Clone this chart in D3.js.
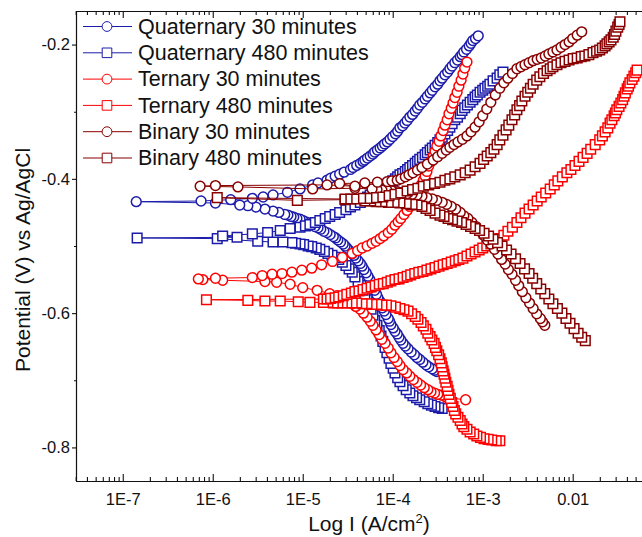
<!DOCTYPE html>
<html>
<head>
<meta charset="utf-8">
<script src="https://cdn.jsdelivr.net/npm/d3@7"></script>
<style>
  body { margin: 0; background: #fff; }
  text { font-family: "Liberation Sans", Arial, sans-serif; }
</style>
</head>
<body>
<div id="my_dataviz"></div>
<script>
// polarization scans, [potential (V vs Ag/AgCl), log10 current density (A/cm2)], in sweep order
var quat30 = [[-0.687,-3.51],[-0.685,-3.535],[-0.683,-3.56],[-0.680,-3.60],[-0.677,-3.63],[-0.673,-3.665],[-0.669,-3.70],[-0.666,-3.73],[-0.662,-3.76],[-0.658,-3.795],[-0.653,-3.83],[-0.649,-3.86],[-0.645,-3.885],[-0.640,-3.91],[-0.636,-3.93],[-0.631,-3.95],[-0.627,-3.975],[-0.622,-3.995],[-0.617,-4.02],[-0.612,-4.035],[-0.608,-4.05],[-0.602,-4.075],[-0.597,-4.095],[-0.592,-4.115],[-0.587,-4.13],[-0.582,-4.145],[-0.577,-4.165],[-0.572,-4.18],[-0.566,-4.20],[-0.561,-4.22],[-0.556,-4.24],[-0.550,-4.255],[-0.545,-4.275],[-0.540,-4.295],[-0.535,-4.32],[-0.530,-4.34],[-0.526,-4.36],[-0.522,-4.385],[-0.518,-4.41],[-0.514,-4.43],[-0.511,-4.45],[-0.507,-4.48],[-0.503,-4.51],[-0.500,-4.53],[-0.497,-4.55],[-0.494,-4.58],[-0.491,-4.61],[-0.488,-4.635],[-0.486,-4.66],[-0.483,-4.695],[-0.480,-4.73],[-0.478,-4.765],[-0.475,-4.80],[-0.473,-4.83],[-0.471,-4.865],[-0.468,-4.90],[-0.466,-4.93],[-0.464,-4.965],[-0.462,-5.00],[-0.460,-5.03],[-0.459,-5.065],[-0.457,-5.10],[-0.456,-5.13],[-0.454,-5.165],[-0.453,-5.20],[-0.450,-5.265],[-0.448,-5.33],[-0.445,-5.42],[-0.442,-5.52],[-0.440,-5.61],[-0.439,-5.70],[-0.436,-5.97],[-0.434,-6.85],[-0.433,-6.13],[-0.431,-5.80],[-0.429,-5.56],[-0.427,-5.44],[-0.424,-5.33],[-0.420,-5.17],[-0.415,-5.03],[-0.409,-4.89],[-0.406,-4.83],[-0.402,-4.73],[-0.399,-4.69],[-0.396,-4.64],[-0.393,-4.59],[-0.390,-4.54],[-0.386,-4.47],[-0.383,-4.44],[-0.380,-4.40],[-0.377,-4.36],[-0.374,-4.33],[-0.372,-4.31],[-0.369,-4.28],[-0.366,-4.25],[-0.363,-4.22],[-0.360,-4.20],[-0.357,-4.17],[-0.354,-4.14],[-0.351,-4.115],[-0.348,-4.09],[-0.345,-4.06],[-0.341,-4.03],[-0.337,-4.00],[-0.333,-3.97],[-0.329,-3.945],[-0.324,-3.92],[-0.321,-3.89],[-0.317,-3.865],[-0.313,-3.84],[-0.308,-3.81],[-0.304,-3.78],[-0.299,-3.75],[-0.295,-3.725],[-0.290,-3.70],[-0.286,-3.67],[-0.281,-3.64],[-0.277,-3.615],[-0.272,-3.585],[-0.268,-3.56],[-0.263,-3.53],[-0.259,-3.50],[-0.254,-3.475],[-0.250,-3.45],[-0.245,-3.42],[-0.241,-3.39],[-0.236,-3.365],[-0.232,-3.34],[-0.227,-3.31],[-0.223,-3.28],[-0.218,-3.25],[-0.215,-3.23],[-0.211,-3.21],[-0.207,-3.18],[-0.202,-3.15],[-0.198,-3.13],[-0.194,-3.11],[-0.191,-3.08],[-0.187,-3.05]];

var quat480 = [[-0.742,-3.45],[-0.741,-3.49],[-0.739,-3.53],[-0.737,-3.57],[-0.735,-3.61],[-0.732,-3.65],[-0.729,-3.70],[-0.726,-3.735],[-0.723,-3.775],[-0.719,-3.81],[-0.714,-3.85],[-0.708,-3.885],[-0.702,-3.92],[-0.696,-3.945],[-0.689,-3.975],[-0.682,-3.995],[-0.675,-4.02],[-0.667,-4.04],[-0.659,-4.065],[-0.651,-4.085],[-0.642,-4.11],[-0.634,-4.13],[-0.626,-4.15],[-0.618,-4.175],[-0.611,-4.20],[-0.603,-4.22],[-0.594,-4.24],[-0.587,-4.265],[-0.580,-4.285],[-0.573,-4.31],[-0.566,-4.33],[-0.559,-4.355],[-0.553,-4.385],[-0.546,-4.42],[-0.539,-4.45],[-0.534,-4.485],[-0.529,-4.52],[-0.524,-4.56],[-0.520,-4.60],[-0.517,-4.635],[-0.514,-4.675],[-0.511,-4.72],[-0.508,-4.76],[-0.505,-4.81],[-0.503,-4.85],[-0.501,-4.90],[-0.500,-4.94],[-0.498,-4.99],[-0.497,-5.03],[-0.496,-5.08],[-0.495,-5.12],[-0.494,-5.22],[-0.494,-5.33],[-0.493,-5.50],[-0.489,-5.95],[-0.488,-6.84],[-0.487,-5.73],[-0.485,-5.89],[-0.482,-5.56],[-0.480,-5.39],[-0.477,-5.25],[-0.474,-5.14],[-0.472,-5.03],[-0.470,-4.97],[-0.468,-4.92],[-0.465,-4.86],[-0.462,-4.81],[-0.459,-4.75],[-0.456,-4.70],[-0.453,-4.64],[-0.450,-4.59],[-0.446,-4.52],[-0.442,-4.47],[-0.439,-4.42],[-0.435,-4.36],[-0.430,-4.31],[-0.427,-4.28],[-0.424,-4.25],[-0.420,-4.20],[-0.418,-4.17],[-0.415,-4.14],[-0.413,-4.11],[-0.410,-4.09],[-0.408,-4.06],[-0.405,-4.03],[-0.403,-4.00],[-0.400,-3.97],[-0.397,-3.945],[-0.394,-3.92],[-0.392,-3.89],[-0.389,-3.86],[-0.386,-3.835],[-0.383,-3.81],[-0.380,-3.78],[-0.377,-3.75],[-0.374,-3.725],[-0.371,-3.70],[-0.368,-3.67],[-0.364,-3.64],[-0.361,-3.615],[-0.357,-3.585],[-0.354,-3.56],[-0.350,-3.53],[-0.346,-3.50],[-0.342,-3.475],[-0.338,-3.45],[-0.333,-3.42],[-0.328,-3.39],[-0.323,-3.365],[-0.318,-3.34],[-0.312,-3.31],[-0.308,-3.28],[-0.303,-3.25],[-0.298,-3.23],[-0.294,-3.20],[-0.290,-3.17],[-0.286,-3.14],[-0.282,-3.11],[-0.278,-3.085],[-0.275,-3.06],[-0.271,-3.03],[-0.268,-3.00],[-0.265,-2.975],[-0.262,-2.945],[-0.259,-2.92],[-0.254,-2.885],[-0.250,-2.84],[-0.245,-2.81],[-0.241,-2.775]];

var tern30 = [[-0.729,-3.19],[-0.726,-3.39],[-0.725,-3.40],[-0.724,-3.42],[-0.722,-3.46],[-0.721,-3.50],[-0.719,-3.535],[-0.717,-3.575],[-0.714,-3.61],[-0.711,-3.65],[-0.707,-3.69],[-0.703,-3.73],[-0.699,-3.77],[-0.694,-3.81],[-0.689,-3.845],[-0.684,-3.885],[-0.678,-3.92],[-0.672,-3.95],[-0.666,-3.985],[-0.659,-4.02],[-0.652,-4.05],[-0.645,-4.085],[-0.639,-4.12],[-0.632,-4.15],[-0.625,-4.185],[-0.618,-4.22],[-0.612,-4.25],[-0.606,-4.285],[-0.600,-4.325],[-0.594,-4.365],[-0.590,-4.41],[-0.586,-4.45],[-0.582,-4.50],[-0.578,-4.55],[-0.574,-4.62],[-0.571,-4.70],[-0.566,-4.84],[-0.562,-5.00],[-0.557,-5.14],[-0.554,-5.29],[-0.553,-5.42],[-0.551,-5.89],[-0.550,-6.11],[-0.549,-6.16],[-0.548,-5.97],[-0.547,-5.56],[-0.544,-5.45],[-0.542,-5.34],[-0.541,-5.23],[-0.539,-5.12],[-0.536,-5.01],[-0.533,-4.90],[-0.528,-4.79],[-0.523,-4.67],[-0.517,-4.56],[-0.511,-4.45],[-0.507,-4.39],[-0.503,-4.34],[-0.500,-4.285],[-0.496,-4.23],[-0.493,-4.185],[-0.489,-4.14],[-0.485,-4.10],[-0.480,-4.05],[-0.475,-4.01],[-0.469,-3.975],[-0.464,-3.94],[-0.459,-3.91],[-0.453,-3.875],[-0.447,-3.84],[-0.441,-3.81],[-0.435,-3.785],[-0.428,-3.755],[-0.421,-3.73],[-0.415,-3.71],[-0.409,-3.685],[-0.402,-3.66],[-0.396,-3.64],[-0.389,-3.62],[-0.381,-3.60],[-0.374,-3.575],[-0.366,-3.55],[-0.359,-3.53],[-0.351,-3.51],[-0.344,-3.485],[-0.336,-3.465],[-0.328,-3.44],[-0.320,-3.42],[-0.312,-3.395],[-0.303,-3.375],[-0.295,-3.35],[-0.287,-3.33],[-0.279,-3.31],[-0.271,-3.285],[-0.262,-3.265],[-0.253,-3.24],[-0.244,-3.22],[-0.235,-3.20],[-0.226,-3.175]];

var tern480 = [[-0.790,-2.81],[-0.790,-2.85],[-0.789,-2.90],[-0.788,-2.94],[-0.787,-2.985],[-0.785,-3.025],[-0.783,-3.065],[-0.780,-3.10],[-0.777,-3.14],[-0.773,-3.175],[-0.769,-3.21],[-0.765,-3.23],[-0.760,-3.25],[-0.755,-3.275],[-0.750,-3.30],[-0.745,-3.315],[-0.739,-3.33],[-0.733,-3.345],[-0.727,-3.36],[-0.721,-3.375],[-0.715,-3.385],[-0.709,-3.395],[-0.703,-3.41],[-0.697,-3.42],[-0.691,-3.43],[-0.686,-3.44],[-0.680,-3.45],[-0.674,-3.46],[-0.668,-3.475],[-0.662,-3.49],[-0.656,-3.51],[-0.651,-3.525],[-0.645,-3.54],[-0.640,-3.565],[-0.635,-3.585],[-0.630,-3.61],[-0.624,-3.63],[-0.619,-3.66],[-0.614,-3.685],[-0.609,-3.72],[-0.605,-3.75],[-0.601,-3.79],[-0.597,-3.83],[-0.595,-3.875],[-0.593,-3.92],[-0.591,-3.97],[-0.589,-4.02],[-0.588,-4.07],[-0.588,-4.12],[-0.587,-4.175],[-0.587,-4.23],[-0.586,-4.285],[-0.586,-4.34],[-0.585,-4.40],[-0.585,-4.45],[-0.585,-4.51],[-0.585,-4.56],[-0.585,-4.61],[-0.585,-4.66],[-0.584,-4.72],[-0.584,-4.77],[-0.584,-4.92],[-0.583,-5.05],[-0.582,-5.25],[-0.582,-5.42],[-0.581,-5.61],[-0.580,-6.07],[-0.579,-4.77],[-0.579,-4.73],[-0.578,-4.69],[-0.577,-4.64],[-0.576,-4.60],[-0.574,-4.55],[-0.572,-4.51],[-0.570,-4.46],[-0.568,-4.42],[-0.567,-4.375],[-0.565,-4.33],[-0.563,-4.285],[-0.561,-4.24],[-0.559,-4.195],[-0.557,-4.15],[-0.556,-4.105],[-0.554,-4.06],[-0.552,-4.02],[-0.550,-3.975],[-0.549,-3.93],[-0.547,-3.885],[-0.545,-3.84],[-0.543,-3.80],[-0.541,-3.755],[-0.539,-3.71],[-0.538,-3.665],[-0.536,-3.62],[-0.534,-3.575],[-0.532,-3.53],[-0.530,-3.485],[-0.528,-3.44],[-0.526,-3.395],[-0.524,-3.35],[-0.522,-3.305],[-0.520,-3.265],[-0.518,-3.22],[-0.515,-3.175],[-0.512,-3.13],[-0.509,-3.085],[-0.506,-3.04],[-0.503,-3.00],[-0.500,-2.955],[-0.497,-2.91],[-0.493,-2.86],[-0.489,-2.81],[-0.484,-2.765],[-0.478,-2.72],[-0.472,-2.67],[-0.465,-2.62],[-0.458,-2.575],[-0.451,-2.53],[-0.445,-2.485],[-0.439,-2.44],[-0.433,-2.395],[-0.427,-2.35],[-0.421,-2.30],[-0.415,-2.25],[-0.409,-2.205],[-0.403,-2.165],[-0.397,-2.115],[-0.391,-2.065],[-0.386,-2.02],[-0.380,-1.975],[-0.374,-1.93],[-0.368,-1.885],[-0.362,-1.84],[-0.356,-1.80],[-0.349,-1.75],[-0.342,-1.70],[-0.336,-1.67],[-0.330,-1.64],[-0.324,-1.61],[-0.317,-1.585],[-0.312,-1.565],[-0.306,-1.54],[-0.302,-1.525],[-0.297,-1.51],[-0.292,-1.485],[-0.287,-1.465],[-0.282,-1.445],[-0.277,-1.43],[-0.272,-1.415],[-0.266,-1.395],[-0.262,-1.38],[-0.257,-1.365],[-0.252,-1.34],[-0.247,-1.32],[-0.242,-1.30],[-0.238,-1.285]];

var bin30 = [[-0.618,-2.31],[-0.613,-2.335],[-0.608,-2.36],[-0.601,-2.40],[-0.593,-2.44],[-0.585,-2.48],[-0.577,-2.52],[-0.568,-2.56],[-0.559,-2.60],[-0.551,-2.635],[-0.542,-2.675],[-0.535,-2.715],[-0.527,-2.75],[-0.520,-2.79],[-0.512,-2.83],[-0.505,-2.87],[-0.497,-2.91],[-0.491,-2.95],[-0.484,-2.99],[-0.478,-3.03],[-0.471,-3.075],[-0.465,-3.12],[-0.459,-3.165],[-0.455,-3.21],[-0.450,-3.25],[-0.445,-3.30],[-0.441,-3.35],[-0.438,-3.40],[-0.435,-3.45],[-0.432,-3.51],[-0.430,-3.56],[-0.428,-3.62],[-0.426,-3.675],[-0.424,-3.73],[-0.423,-3.785],[-0.422,-3.84],[-0.421,-3.90],[-0.419,-3.95],[-0.418,-4.01],[-0.417,-4.065],[-0.417,-4.12],[-0.416,-4.175],[-0.415,-4.23],[-0.414,-4.42],[-0.415,-4.89],[-0.412,-5.72],[-0.411,-6.14],[-0.410,-5.97],[-0.409,-4.73],[-0.411,-4.42],[-0.407,-4.59],[-0.406,-4.31],[-0.405,-4.17],[-0.404,-4.06],[-0.403,-4.01],[-0.402,-3.95],[-0.400,-3.91],[-0.397,-3.86],[-0.394,-3.82],[-0.391,-3.775],[-0.387,-3.725],[-0.383,-3.675],[-0.378,-3.615],[-0.372,-3.55],[-0.367,-3.50],[-0.362,-3.45],[-0.357,-3.405],[-0.353,-3.365],[-0.349,-3.32],[-0.345,-3.275],[-0.341,-3.225],[-0.336,-3.175],[-0.330,-3.13],[-0.323,-3.085],[-0.315,-3.04],[-0.306,-3.00],[-0.296,-2.955],[-0.286,-2.91],[-0.275,-2.86],[-0.265,-2.81],[-0.257,-2.765],[-0.250,-2.72],[-0.243,-2.67],[-0.236,-2.62],[-0.233,-2.575],[-0.230,-2.53],[-0.227,-2.485],[-0.224,-2.44],[-0.222,-2.395],[-0.220,-2.35],[-0.217,-2.305],[-0.214,-2.265],[-0.211,-2.22],[-0.208,-2.175],[-0.204,-2.13],[-0.200,-2.085],[-0.196,-2.04],[-0.191,-2.00],[-0.186,-1.95],[-0.181,-1.90]];

var bin480 = [[-0.641,-1.86],[-0.636,-1.90],[-0.630,-1.94],[-0.623,-1.985],[-0.615,-2.03],[-0.608,-2.075],[-0.600,-2.12],[-0.593,-2.17],[-0.586,-2.22],[-0.579,-2.265],[-0.571,-2.31],[-0.564,-2.355],[-0.556,-2.40],[-0.548,-2.445],[-0.541,-2.485],[-0.534,-2.535],[-0.526,-2.585],[-0.519,-2.635],[-0.512,-2.685],[-0.506,-2.735],[-0.500,-2.785],[-0.495,-2.835],[-0.490,-2.885],[-0.485,-2.935],[-0.481,-2.985],[-0.477,-3.035],[-0.474,-3.085],[-0.471,-3.135],[-0.468,-3.185],[-0.465,-3.235],[-0.463,-3.285],[-0.461,-3.335],[-0.459,-3.385],[-0.456,-3.43],[-0.454,-3.475],[-0.451,-3.53],[-0.447,-3.585],[-0.444,-3.63],[-0.441,-3.675],[-0.439,-3.73],[-0.438,-3.785],[-0.437,-3.85],[-0.436,-3.92],[-0.435,-3.985],[-0.435,-4.05],[-0.434,-4.12],[-0.434,-4.185],[-0.433,-4.245],[-0.433,-4.31],[-0.431,-4.53],[-0.432,-5.06],[-0.428,-5.95],[-0.430,-4.53],[-0.430,-4.465],[-0.430,-4.40],[-0.429,-4.325],[-0.429,-4.25],[-0.428,-4.18],[-0.427,-4.11],[-0.425,-4.04],[-0.423,-3.975],[-0.421,-3.91],[-0.418,-3.84],[-0.416,-3.78],[-0.414,-3.72],[-0.411,-3.66],[-0.409,-3.60],[-0.407,-3.535],[-0.405,-3.475],[-0.402,-3.42],[-0.400,-3.365],[-0.397,-3.31],[-0.394,-3.25],[-0.391,-3.195],[-0.387,-3.14],[-0.382,-3.085],[-0.377,-3.03],[-0.371,-2.99],[-0.366,-2.95],[-0.361,-2.91],[-0.356,-2.875],[-0.349,-2.84],[-0.342,-2.81],[-0.335,-2.775],[-0.327,-2.74],[-0.320,-2.71],[-0.312,-2.675],[-0.305,-2.645],[-0.297,-2.62],[-0.291,-2.59],[-0.284,-2.565],[-0.277,-2.53],[-0.271,-2.50],[-0.265,-2.47],[-0.259,-2.44],[-0.253,-2.40],[-0.248,-2.365],[-0.243,-2.325],[-0.239,-2.285],[-0.236,-2.25],[-0.233,-2.22],[-0.230,-2.175],[-0.227,-2.13],[-0.225,-2.085],[-0.223,-2.04],[-0.221,-1.995],[-0.220,-1.95],[-0.218,-1.905],[-0.217,-1.865],[-0.215,-1.82],[-0.212,-1.775],[-0.210,-1.735],[-0.208,-1.70],[-0.205,-1.67],[-0.202,-1.64],[-0.199,-1.62],[-0.196,-1.595],[-0.193,-1.575],[-0.189,-1.55],[-0.185,-1.535],[-0.180,-1.52],[-0.174,-1.50],[-0.170,-1.485],[-0.166,-1.475]];

var seriesNames = ["Quaternary 30 minutes", "Quaternary 480 minutes", "Ternary 30 minutes",
                   "Ternary 480 minutes", "Binary 30 minutes", "Binary 480 minutes"];
var seriesData = [quat30, quat480, tern30, tern480, bin30, bin480];
var seriesColors = ["#1c1cab", "#1c1cab", "#ff0000", "#ff0000", "#880000", "#880000"];
var seriesShapes = ["circle", "square", "circle", "square", "circle", "square"];

var xTickValues = [1e-7, 1e-6, 1e-5, 1e-4, 1e-3, 1e-2];
var xTickLabels = ["1E-7", "1E-6", "1E-5", "1E-4", "1E-3", "0.01"];
var yTickValues = [-0.8, -0.6, -0.4, -0.2];
var yMinorValues = [-0.7, -0.5, -0.3];

var width = 642, height = 537;
var font = "'Liberation Sans', Arial, sans-serif";

var svg = d3.select("#my_dataviz")
  .append("svg")
    .attr("width", width)
    .attr("height", height);

// scales: plot frame runs from x=76 to past the right edge, y=11 to 481
var x = d3.scaleLog().domain([3e-8, 0.1]).range([75.7, 662.7]);
var y = d3.scaleLinear().domain([-0.85, -0.15]).range([481, 11]);

var xMinor = x.ticks().filter(function(d) {
  return xTickValues.every(function(t) { return Math.abs(d / t - 1) > 1e-6; });
});

function styleAxis(g, size) {
  g.attr("font-family", font).attr("font-size", size);
  g.selectAll("path, line").attr("stroke", "#111").attr("stroke-width", 1.1);
  g.selectAll("text").attr("fill", "#111");
}

// bottom axis, ticks pointing inside
svg.append("g")
  .attr("transform", "translate(0,481)")
  .call(d3.axisBottom(x).tickValues(xMinor).tickSize(-4).tickSizeOuter(0).tickFormat(""))
  .call(styleAxis, 16.5);
svg.append("g")
  .attr("transform", "translate(0,481)")
  .call(d3.axisBottom(x).tickValues(xTickValues).tickSize(-7).tickSizeOuter(0).tickPadding(12)
    .tickFormat(function(d, i) { return xTickLabels[i]; }))
  .call(styleAxis, 16.5);

// top axis, no labels
svg.append("g")
  .attr("transform", "translate(0,11)")
  .call(d3.axisTop(x).tickValues(xMinor).tickSize(-4).tickSizeOuter(0).tickFormat(""))
  .call(styleAxis, 16.5);
svg.append("g")
  .attr("transform", "translate(0,11)")
  .call(d3.axisTop(x).tickValues(xTickValues).tickSize(-7).tickSizeOuter(0).tickFormat(""))
  .call(styleAxis, 16.5);

// left axis
svg.append("g")
  .attr("transform", "translate(76,0)")
  .call(d3.axisLeft(y).tickValues(yMinorValues).tickSize(2).tickSizeOuter(0).tickFormat(""))
  .call(styleAxis, 16.5);
svg.append("g")
  .attr("transform", "translate(76,0)")
  .call(d3.axisLeft(y).tickValues(yTickValues).tickSize(4).tickSizeOuter(0).tickPadding(2)
    .tickFormat(function(d) { return d.toFixed(1); }))
  .call(styleAxis, 16.5);

// axis titles
var xTitle = svg.append("text")
  .attr("x", 369).attr("y", 531)
  .attr("text-anchor", "middle")
  .attr("font-size", 21).attr("fill", "#111");
xTitle.append("tspan").text("Log I (A/cm");
xTitle.append("tspan").attr("dy", -8).attr("font-size", 13).text("2");
xTitle.append("tspan").attr("dy", 8).text(")");

svg.append("text")
  .attr("transform", "translate(30,260) rotate(-90)")
  .attr("text-anchor", "middle")
  .attr("font-size", 21).attr("fill", "#111")
  .text("Potential (V) vs Ag/AgCl");

// curves: thin line plus white-filled markers
var px = function(d) { return x(Math.pow(10, d[1])); };
var py = function(d) { return y(d[0]); };
var line = d3.line().x(px).y(py);

function symbolFor(shape) {
  return shape == "circle"
    ? d3.symbol().type(d3.symbolCircle).size(Math.PI * 4.9 * 4.9)
    : d3.symbol().type(d3.symbolSquare).size(9.6 * 9.6);
}

seriesData.forEach(function(data, i) {
  var g = svg.append("g");
  g.append("path")
    .datum(data)
    .attr("fill", "none")
    .attr("stroke", seriesColors[i])
    .attr("stroke-width", 1)
    .attr("d", line);
  g.selectAll(".mark")
    .data(data)
    .join("path")
      .attr("class", "mark")
      .attr("transform", function(d) { return "translate(" + px(d) + "," + py(d) + ")"; })
      .attr("d", symbolFor(seriesShapes[i]))
      .attr("fill", "#fff")
      .attr("stroke", seriesColors[i])
      .attr("stroke-width", 1.5);
});

// legend
var legend = svg.append("g");
seriesNames.forEach(function(name, i) {
  var cy = 26.5 + i * 26.3;
  var row = legend.append("g");
  row.append("line")
    .attr("x1", 83).attr("x2", 132).attr("y1", cy).attr("y2", cy)
    .attr("stroke", seriesColors[i]).attr("stroke-width", 1);
  row.append("path")
    .attr("transform", "translate(107," + cy + ")")
    .attr("d", symbolFor(seriesShapes[i]))
    .attr("fill", "#fff")
    .attr("stroke", seriesColors[i])
    .attr("stroke-width", 1);
  row.append("text")
    .attr("x", 138).attr("y", cy + 7.3)
    .attr("font-size", 21.5).attr("fill", "#111")
    .text(name);
});
</script>
</body>
</html>
